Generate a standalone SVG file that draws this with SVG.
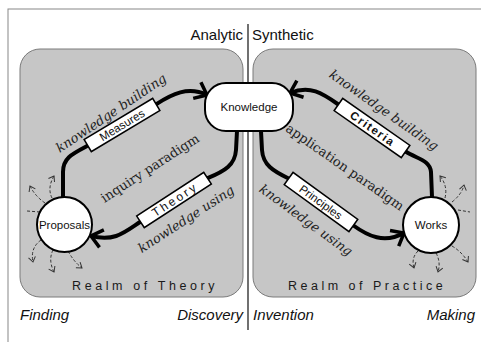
<svg xmlns="http://www.w3.org/2000/svg" width="481" height="342" viewBox="0 0 481 342">
<defs>
<style>
.panel{fill:#c6c6c6;stroke:#7a7a7a;stroke-width:1}
.flow{fill:none;stroke:#000;stroke-width:4;stroke-linecap:butt}
.dash{fill:none;stroke:#333;stroke-width:1;stroke-dasharray:3 2}
.box{fill:#fff;stroke:#000;stroke-width:1.5}
.node{fill:#fff;stroke:#000;stroke-width:2}
.sans{font-family:"Liberation Sans",Arial,sans-serif;fill:#111}
.ser{font-family:"DejaVu Serif","Liberation Serif",serif;fill:#222;font-size:13px}
.it{font-style:italic}
.realm{font-family:"Liberation Sans",Arial,sans-serif;font-size:12.5px;fill:#1a1a1a}
.side{font-family:"Liberation Sans",Arial,sans-serif;font-size:15px;font-style:italic;fill:#111}
</style>
<marker id="ah" viewBox="-14 -11 16 22" markerWidth="16" markerHeight="22" refX="0" refY="0" orient="auto" markerUnits="userSpaceOnUse">
<path d="M-11,-9 L0,0 L-11,9" fill="none" stroke="#000" stroke-width="3.5" stroke-linejoin="miter"/>
</marker>
<marker id="sh" viewBox="-6 -5 8 10" markerWidth="8" markerHeight="10" refX="0" refY="0" orient="auto" markerUnits="userSpaceOnUse">
<path d="M-5,-3.5 L0,0 L-5,3.5" fill="none" stroke="#333" stroke-width="1"/>
</marker>
</defs>
<rect x="0" y="0" width="481" height="342" fill="#fff"/>
<rect x="8" y="9" width="480" height="340" fill="none" stroke="#888" stroke-width="1"/>

<g id="realm-theory">
<rect class="panel" x="20" y="49" width="223" height="248" rx="20"/>
<text class="realm" x="72" y="290" letter-spacing="3.6">Realm of Theory</text>
</g>
<g id="realm-practice">
<rect class="panel" x="253" y="49" width="223" height="248" rx="20"/>
<text class="realm" x="288" y="290" letter-spacing="3.5">Realm of Practice</text>
</g>

<g id="divider">
<line x1="248" y1="24" x2="248" y2="330" stroke="#111" stroke-width="1.2"/>
<text class="sans" x="243" y="40" font-size="15" text-anchor="end">Analytic</text>
<text class="sans" x="252" y="40" font-size="15">Synthetic</text>
<text class="side" x="20" y="320">Finding</text>
<text class="side" x="243" y="320" text-anchor="end">Discovery</text>
<text class="side" x="253" y="320">Invention</text>
<text class="side" x="475" y="320" text-anchor="end">Making</text>
</g>

<g id="connectors">
<path class="flow" d="M63,197 L63,172 C63,158 72,154 88,145.6 L156,104.4 C172,94 188,86 207,95" marker-end="url(#ah)"/>
<path class="flow" d="M237,131 L236,150 C235,165 225,171 207.6,178.2 L140.4,221.8 C125,232 115,242 91,236" marker-end="url(#ah)"/>
<path class="flow" d="M432,197 L431,172 C430,160 417,159 405.6,151.5 L338.4,104.5 C322,93 310,85 290,93" marker-end="url(#ah)"/>
<path class="flow" d="M261,131 L262,150 C263,165 273,171 288.6,178.5 L353.4,225.5 C368,236 384,244 404,233" marker-end="url(#ah)"/>
<path class="dash" d="M45,203 Q35,196 30,186" marker-end="url(#sh)"/>
<path class="dash" d="M52,198 Q47,188 54,176" marker-end="url(#sh)"/>
<path class="dash" d="M40,212 L27,211"/>
<path class="dash" d="M41,240 Q30,248 33,262" marker-end="url(#sh)"/>
<path class="dash" d="M53,250 Q48,260 54,272" marker-end="url(#sh)"/>
<path class="dash" d="M68,251 Q74,262 82,268" marker-end="url(#sh)"/>
<path class="dash" d="M445,198 Q448,186 440,176" marker-end="url(#sh)"/>
<path class="dash" d="M452,202 Q462,194 464,185" marker-end="url(#sh)"/>
<path class="dash" d="M458,210 L470,212"/>
<path class="dash" d="M418,251 Q411,258 414,268" marker-end="url(#sh)"/>
<path class="dash" d="M436,253 Q441,262 438,272" marker-end="url(#sh)"/>
<path class="dash" d="M452,246 Q462,252 468,262" marker-end="url(#sh)"/>
</g>

<g id="knowledge">
<rect class="node" x="205" y="83" width="88" height="48" rx="21"/>
<text class="sans" x="249" y="111" font-size="11.5" text-anchor="middle">Knowledge</text>
</g>
<g id="proposals">
<circle class="node" cx="64.5" cy="224.5" r="27.5"/>
<text class="sans" x="64.5" y="228.5" font-size="11.5" text-anchor="middle">Proposals</text>
</g>
<g id="works">
<circle class="node" cx="431" cy="225" r="28"/>
<text class="sans" x="431" y="229" font-size="11.5" text-anchor="middle">Works</text>
</g>

<g id="measures" transform="translate(122,125) rotate(-31)">
<rect class="box" x="-40" y="-7" width="80" height="14"/>
<text class="sans" x="0" y="4" font-size="11.5" text-anchor="middle">Measures</text>
</g>
<g id="theory" transform="translate(174,200) rotate(-33)">
<rect class="box" x="-40" y="-7" width="80" height="14"/>
<text class="sans" x="1" y="4.2" font-size="12" letter-spacing="2.5" text-anchor="middle">Theory</text>
</g>
<g id="criteria" transform="translate(372,128) rotate(35)">
<rect class="box" x="-41" y="-7.5" width="82" height="15"/>
<text class="sans" x="1" y="4.2" font-size="11.5" font-weight="bold" letter-spacing="1.5" text-anchor="middle">Criteria</text>
</g>
<g id="principles" transform="translate(321,202) rotate(36)">
<rect class="box" x="-40" y="-7.5" width="80" height="15"/>
<text class="sans" x="0" y="4.2" font-size="11.5" text-anchor="middle">Principles</text>
</g>

<g id="labels">
<text class="ser it" transform="translate(111,113) rotate(-34)" text-anchor="middle" dy="0.35em">knowledge building</text>
<text class="ser" transform="translate(150,168) rotate(-33)" text-anchor="middle" dy="0.35em">inquiry paradigm</text>
<text class="ser it" transform="translate(186,219) rotate(-33)" text-anchor="middle" dy="0.35em">knowledge using</text>
<text class="ser it" transform="translate(384,110) rotate(35)" text-anchor="middle" dy="0.35em">knowledge building</text>
<text class="ser" transform="translate(345,167) rotate(35)" text-anchor="middle" dy="0.35em">application paradigm</text>
<text class="ser it" transform="translate(306,220) rotate(36)" text-anchor="middle" dy="0.35em">knowledge using</text>
</g>
</svg>
